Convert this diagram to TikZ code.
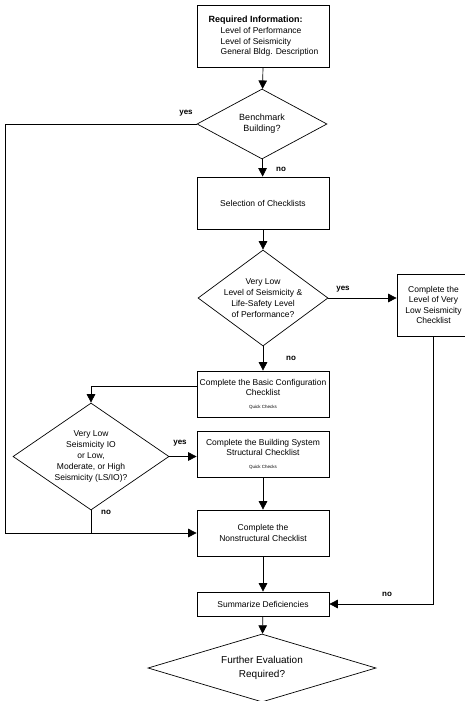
\documentclass[tikz,border=0pt]{standalone}
\usepackage{fontspec}
\setmainfont{Liberation Sans}
\usetikzlibrary{shapes.geometric,arrows.meta}
\begin{document}
\begin{tikzpicture}[x=1pt,y=-1pt,
  boite/.style={draw, line width=0.7pt, minimum width=132pt, align=center, inner sep=2pt, font=\fontsize{8.5}{10.5}\selectfont},
  losange/.style={draw, diamond, line width=0.7pt, inner sep=-10pt, align=center, font=\fontsize{8.5}{10.8}\selectfont},
  fleche/.style={line width=0.7pt, -{Triangle[width=8.5pt,length=8.5pt]}},
  trait/.style={line width=0.7pt},
  etiq/.style={font=\bfseries\fontsize{8}{9}\selectfont}]
\useasboundingbox (0,0) rectangle (465,701);
% Informations requises
\node[boite, minimum height=62pt, align=left] (info) at (263.5,36)
  {{\bfseries\fontsize{9}{10.5}\selectfont Required Information:}\\[1pt]
   \hspace{12pt}Level of Performance\\
   \hspace{12pt}Level of Seismicity\\
   \hspace{12pt}General Bldg. Description};
% Bâtiment de référence
\node[losange, minimum width=130pt, minimum height=70pt, font=\fontsize{9}{11}\selectfont] (bench) at (262,124) {Benchmark\\Building?};
\node[boite, minimum height=52pt] (select) at (263,203) {Selection of Checklists};
% Sismicité très faible
\node[losange, minimum width=130pt, minimum height=96pt] (vlow) at (263,298)
  {Very Low\\Level of Seismicity \&\\Life-Safety Level\\of Performance?};
\node[boite, minimum width=73pt, minimum height=62pt] (verylow) at (433.5,305)
  {Complete the\\Level of Very\\Low Seismicity\\Checklist};
% Listes de contrôle
\node[boite, minimum height=46pt] (basic) at (263,394)
  {Complete the Basic Configuration\\Checklist\\[2pt]{\fontsize{4.5}{5}\selectfont Quick Checks}};
\node[losange, minimum width=156pt, minimum height=107pt] (seis) at (91,456.5)
  {Very Low\\Seismicity IO\\or Low,\\Moderate, or High\\Seismicity (LS/IO)?};
\node[boite, minimum height=46pt] (build) at (263,454)
  {Complete the Building System\\Structural Checklist\\[2pt]{\fontsize{4.5}{5}\selectfont Quick Checks}};
\node[boite, minimum height=46pt] (nonstr) at (263,533)
  {Complete the\\Nonstructural Checklist};
\node[boite, minimum height=24pt] (summ) at (263,604) {Summarize Deficiencies};
% Évaluation
\node[losange, minimum width=228pt, minimum height=68pt, font=\fontsize{10}{14}\selectfont] (further) at (262,668)
  {Further Evaluation\\Required?};
% Flèches
\coordinate (coin) at (5,124);
\draw[fleche] (info) -- (bench);
\draw[fleche] (bench.west) -- (coin) |- (nonstr.west);
\node[etiq] at (186,113) {yes};
\draw[fleche] (bench) -- (select);
\node[etiq] at (281,169) {no};
\draw[fleche] (select) -- (vlow);
\draw[fleche] (vlow.east) -- (vlow.east -| verylow.west);
\node[etiq] at (343,289) {yes};
\draw[fleche] (verylow.south) |- (summ.east);
\node[etiq] at (387,594) {no};
\draw[fleche] (vlow) -- (basic);
\node[etiq] at (291,358) {no};
\draw[fleche] ([yshift=8pt]basic.west) -| (seis.north);
\draw[fleche] (seis.east) -- (seis.east -| build.west);
\node[etiq] at (180,443) {yes};
\draw[trait] (seis.south) -- (seis.south |- nonstr.west);
\node[etiq] at (106,512) {no};
\draw[fleche] (build) -- (nonstr);
\draw[fleche] (nonstr) -- (summ);
\draw[fleche] (summ) -- (further);
\end{tikzpicture}
\end{document}
